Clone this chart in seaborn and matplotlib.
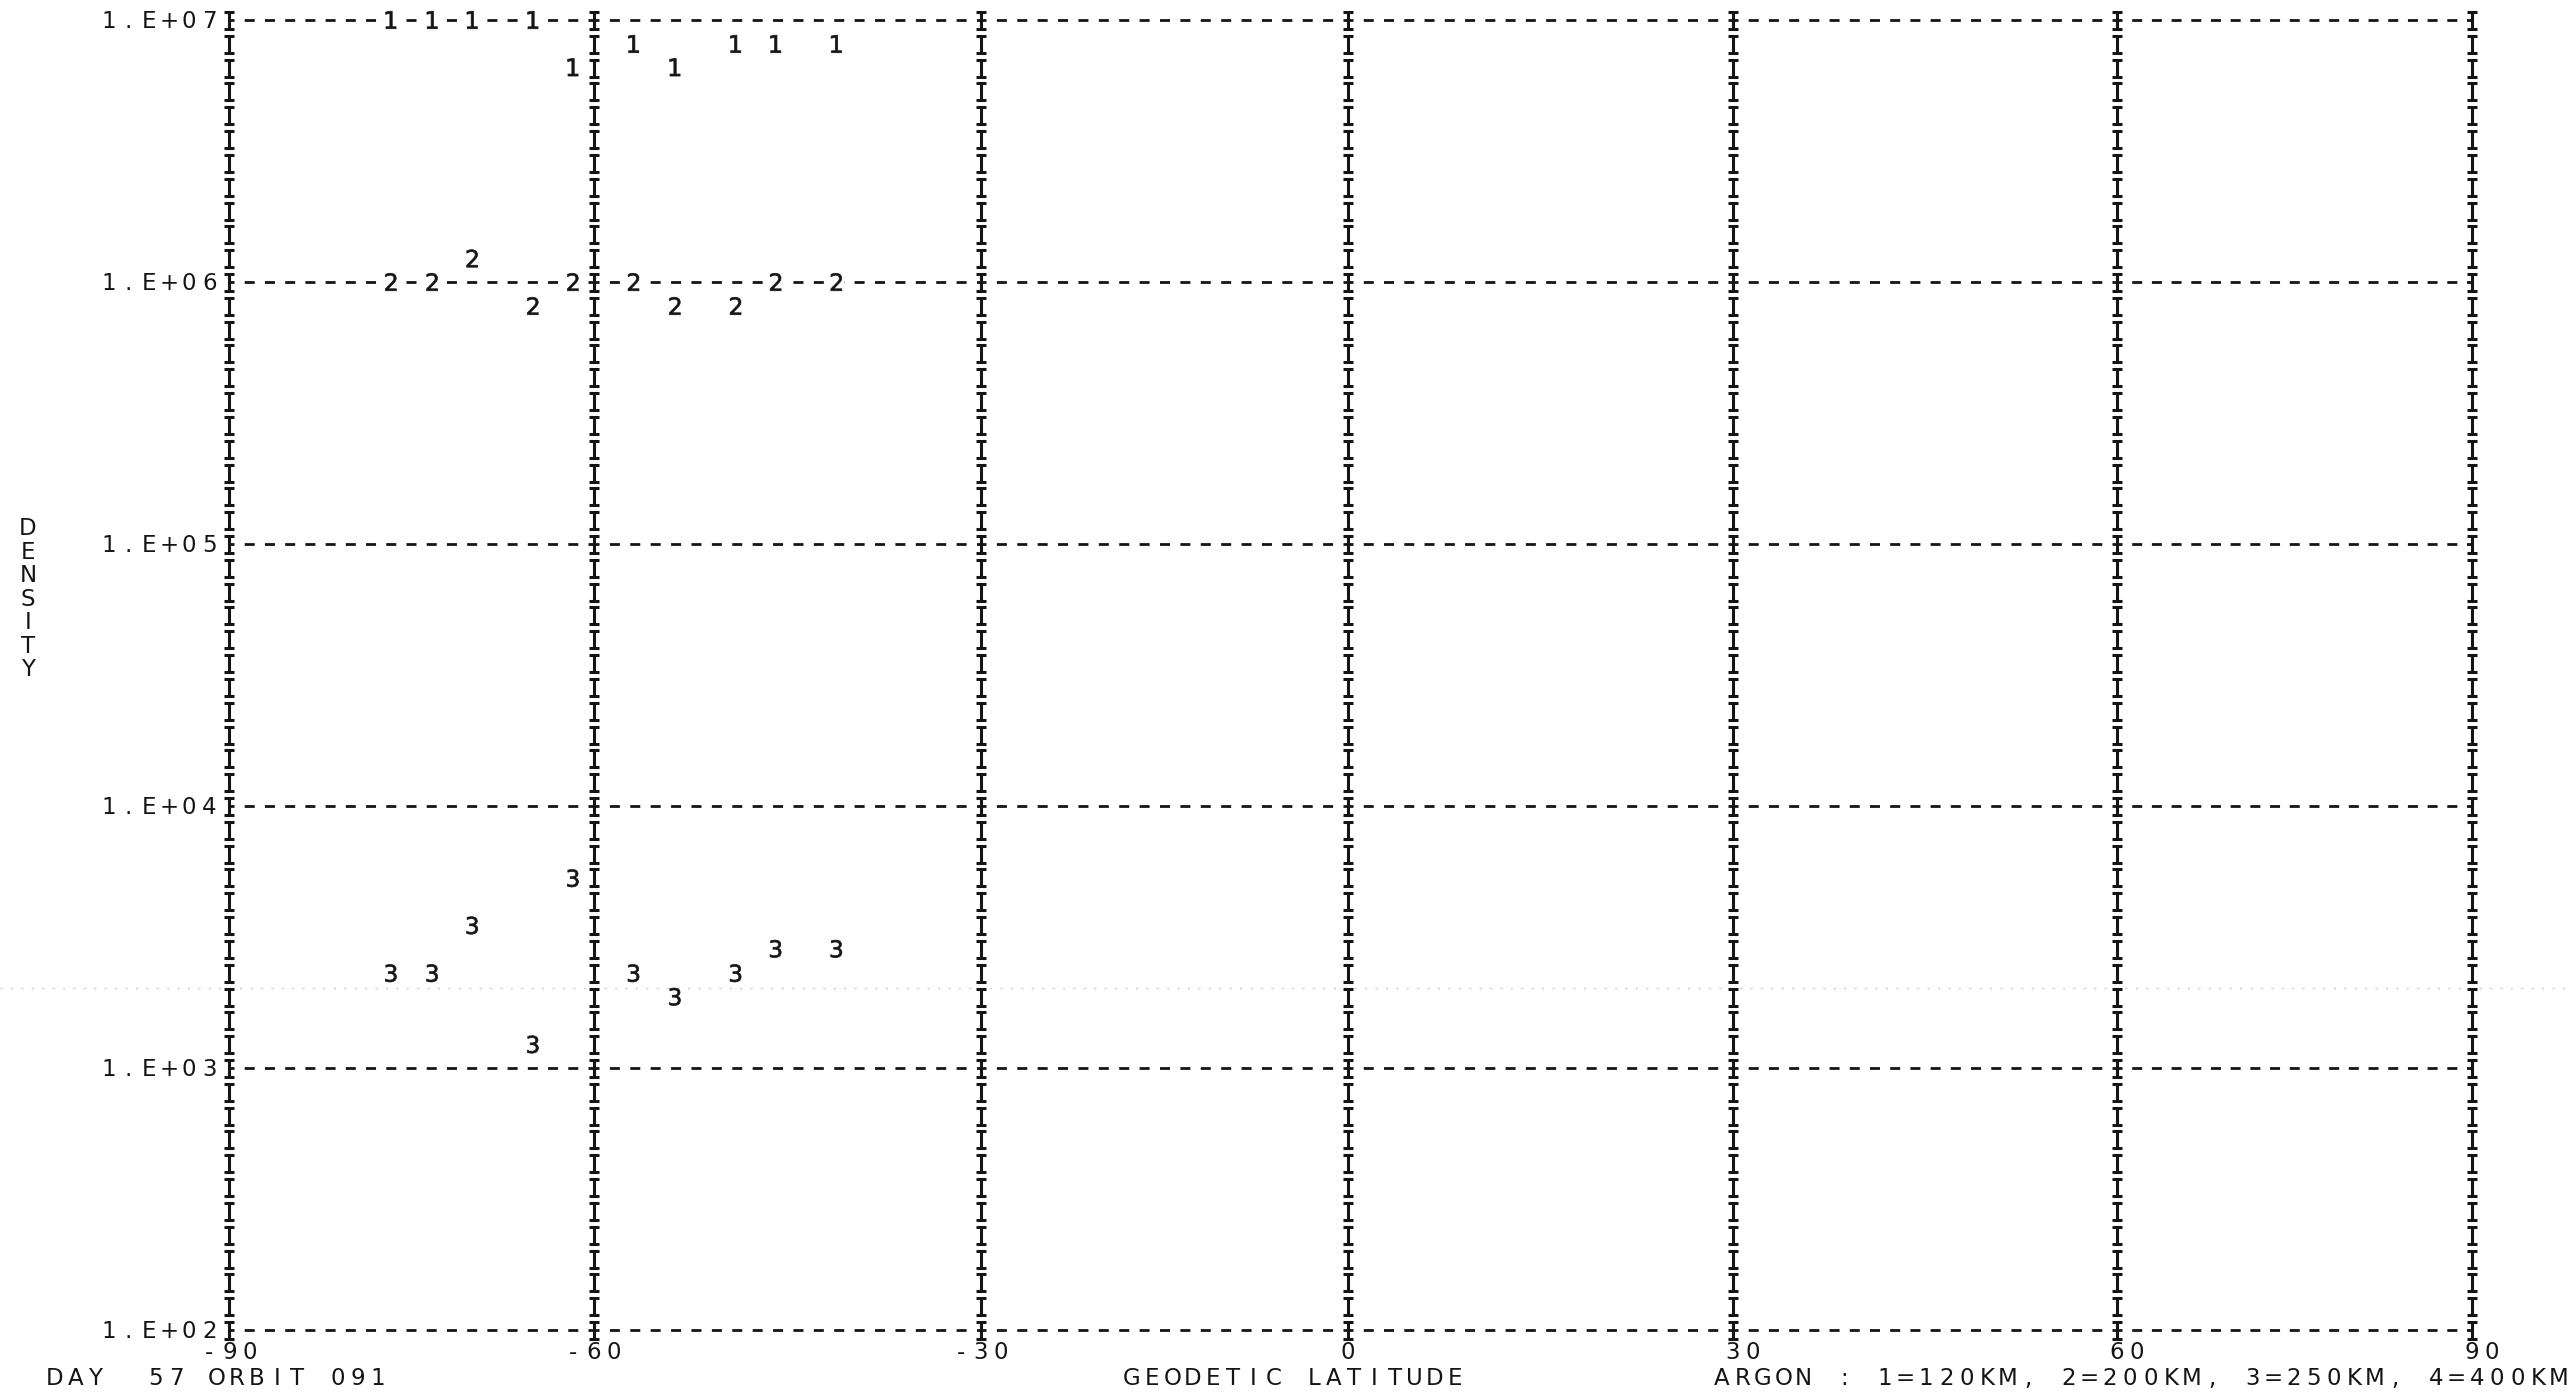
import numpy as np
import pandas as pd
import matplotlib
matplotlib.use("Agg")
import matplotlib.pyplot as plt
from matplotlib.path import Path
from matplotlib.lines import Line2D
import seaborn as sns

# ---- argon density, day 57 orbit 091 ----
latitude = [-76.7, -73.3, -70.0, -65.0, -61.7, -56.9, -53.7, -49.0, -45.9, -41.2]
density_120km = [1.0e7, 1.0e7, 1.0e7, 1.0e7, 6.6e6, 8.1e6, 6.6e6, 8.1e6, 8.1e6, 8.1e6]
density_200km = [1.0e6, 1.0e6, 1.23e6, 8.1e5, 1.0e6, 1.0e6, 8.1e5, 8.1e5, 1.0e6, 1.0e6]
density_250km = [2.3e3, 2.3e3, 3.5e3, 1.23e3, 5.3e3, 2.3e3, 1.87e3, 2.3e3, 2.85e3, 2.85e3]
series_codes = ["1", "2", "3"]

x_ticks = [-90, -60, -30, 0, 30, 60, 90]
x_tick_labels = ["-90", "-60", "-30", "0", "30", "60", "90"]
y_ticks = [1e2, 1e3, 1e4, 1e5, 1e6, 1e7]
y_tick_labels = ["1.E+02", "1.E+03", "1.E+04", "1.E+05", "1.E+06", "1.E+07"]

footer_left = "DAY  57 ORBIT 091"
x_title = "GEODETIC LATITUDE"
legend_text = "ARGON : 1=120KM, 2=200KM, 3=250KM, 4=400KM"
y_title = "DENSITY"

# ---- page geometry (pixels, origin top-left) ----
W, H = 2569, 1398
AX_T, AX_B = 20.0, 1330.0
# printer columns of the latitude grid lines (line printers round to whole cells)
GRID_PX = [229.5, 593.5, 981.0, 1348.0, 1733.0, 2117.0, 2471.5]
AX_L, AX_R = GRID_PX[0], GRID_PX[-1]
COL = 20.2                          # printer cell pitch
ROWS_PER_DECADE = 11
INK = "#151515"
FONT = "DejaVu Sans"
FS = 16.5                           # pt
CAP = 0.729 * FS / 0.72             # cap height, px
PX = 0.72                           # points per pixel at 100 dpi

sns.set_theme(style="white")
plt.rcParams["font.family"] = [FONT]
plt.rcParams["lines.scale_dashes"] = False
plt.rcParams["mathtext.fontset"] = "custom"
plt.rcParams["mathtext.rm"] = "DejaVu Sans"

fig = plt.figure(figsize=(W / 100, H / 100), dpi=100, facecolor="white")
ax = fig.add_axes([AX_L / W, 1 - AX_B / H, (AX_R - AX_L) / W, (AX_B - AX_T) / H])

# latitude axis follows the printer's cell grid between labelled columns
ax.set_xscale("function", functions=(lambda v: np.interp(v, x_ticks, GRID_PX),
                                     lambda p: np.interp(p, GRID_PX, x_ticks)))
ax.set_yscale("log")
ax.set_xlim(x_ticks[0], x_ticks[-1])
ax.set_ylim(y_ticks[0], y_ticks[-1])

# ---- data points, printed as their altitude code ----
n = len(latitude)
df = pd.DataFrame({
    "lat": latitude * 3,
    "density": density_120km + density_200km + density_250km,
    "code": [series_codes[0]] * n + [series_codes[1]] * n + [series_codes[2]] * n,
})

MARK_S = (17.5 * PX) ** 2
# blank cell under each printed digit (the printer overwrites the dash)
ax.scatter(df["lat"], df["density"], marker="s", s=(15 * PX) ** 2,
           color="white", linewidths=0, zorder=4, clip_on=False)

sns.scatterplot(data=df, x="lat", y="density", style="code",
                markers={c: f"$\\mathrm{{{c}}}$" for c in series_codes},
                s=MARK_S, color=INK, edgecolor=INK, linewidth=0.5,
                legend=False, ax=ax, zorder=5, clip_on=False)

ax.set_xlim(x_ticks[0], x_ticks[-1])
ax.set_ylim(y_ticks[0], y_ticks[-1])
ax.axis("off")

# ---- horizontal dashed grid at each decade, one dash per printer cell ----
for v in y_ticks:
    for a, b, pa, pb in zip(x_ticks[:-1], x_ticks[1:], GRID_PX[:-1], GRID_PX[1:]):
        cells = round((pb - pa) / COL)
        pitch = (pb - pa) / cells
        ax.plot([a, b], [v, v], color=INK, lw=2.0,
                linestyle=(5 * PX, (10 * PX, (pitch - 10) * PX)),
                dash_capstyle="butt", clip_on=False, zorder=2)

# ---- vertical grid printed as a column of "I" characters ----
i_glyph = Path([(-0.28, 0.5), (0.28, 0.5), (0, 0.5), (0, -0.5), (-0.28, -0.5), (0.28, -0.5)],
               [Path.MOVETO, Path.LINETO, Path.MOVETO, Path.LINETO, Path.MOVETO, Path.LINETO])
exps = np.log10(y_ticks)
rows = np.logspace(exps[0], exps[-1], int(round((exps[-1] - exps[0]) * ROWS_PER_DECADE)) + 1)
for t in x_ticks:
    ax.plot(np.full(rows.size, t), rows, linestyle="none", marker=i_glyph,
            markersize=17 * PX, markeredgewidth=2.2, color=INK,
            markerfacecolor="none", clip_on=False, zorder=3)


def put_chars(text, x0, y0, step=COL, vertical=False):
    """Place text one character per printer cell; (x0, y0) is the first cell centre."""
    for i, ch in enumerate(text):
        if ch == " ":
            continue
        x = x0 + (0 if vertical else i * step)
        y = y0 + (i * step if vertical else 0)
        fig.text(x / W, 1 - (y + CAP / 2) / H, ch, ha="center", va="baseline",
                 fontsize=FS, color=INK, family=FONT)


# y tick labels, right-aligned against the left grid column
for v, lab in zip(y_ticks, y_tick_labels):
    y_px = H - ax.transData.transform((0, v))[1]
    put_chars(lab, AX_L - len(lab) * COL, y_px)

# x tick labels, first digit under its grid column
for t, lab in zip(x_ticks, x_tick_labels):
    x_px = ax.transData.transform((t, y_ticks[0]))[0]
    lead = 1 if lab.startswith("-") else 0
    put_chars(lab, x_px - lead * COL, AX_B + 21)

# footer line
put_chars(footer_left, 55, AX_B + 47)
put_chars(x_title, 1132, AX_B + 47)
put_chars(legend_text, 1722, AX_B + 47, step=20.4)

# vertical axis title, one letter per line
put_chars(y_title, 28, 527, step=23.5, vertical=True)

# faint dotted streak left across the sheet
fig.add_artist(Line2D([0, 1], [1 - 988 / H, 1 - 988 / H], transform=fig.transFigure,
                      color="#c8c8c8", lw=0.9, linestyle=(0, (1.5, 6)), zorder=0))

fig.savefig("out.png", dpi=100, facecolor="white")
